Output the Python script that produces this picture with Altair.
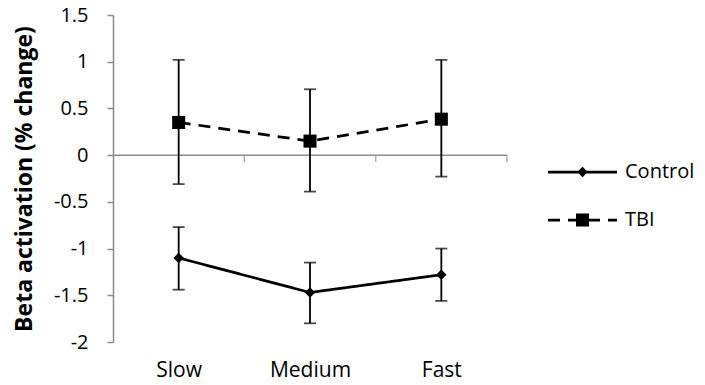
import altair as alt
import pandas as pd

categories = ["Slow", "Medium", "Fast"]
series_names = ["Control", "TBI"]

control_mean = [-1.10, -1.47, -1.28]
control_lo = [-1.44, -1.80, -1.56]
control_hi = [-0.77, -1.15, -1.00]

tbi_mean = [0.35, 0.15, 0.385]
tbi_lo = [-0.31, -0.39, -0.23]
tbi_hi = [1.02, 0.705, 1.02]

y_ticks = [-2, -1.5, -1, -0.5, 0, 0.5, 1, 1.5]
boundaries = [1, 2, 3]

rows = []
for name, m, lo, hi in [("Control", control_mean, control_lo, control_hi),
                        ("TBI", tbi_mean, tbi_lo, tbi_hi)]:
    for i, c in enumerate(categories):
        rows.append({"series": name, "cat": c, "xpos": i + 0.5,
                     "mean": m[i], "lo": lo[i], "hi": hi[i]})
df = pd.DataFrame(rows)

FONT = "Open Sans"
AXIS_GRAY = "#8c8c8c"

x_scale = alt.Scale(domain=[0, 3], nice=False, zero=False)
y_scale = alt.Scale(domain=[-2, 1.5], nice=False, zero=False)
dash_scale = alt.Scale(domain=series_names, range=[[1, 0], [12, 8]])
shape_scale = alt.Scale(domain=series_names, range=["diamond", "square"])
size_scale = alt.Scale(domain=series_names, range=[110, 170])

label_expr = "['" + "','".join(categories) + "'][floor(datum.value)]"

base = alt.Chart(df)

x_enc = alt.X("xpos:Q", scale=x_scale,
              axis=alt.Axis(values=[0.5, 1.5, 2.5], labelExpr=label_expr,
                            domain=False, ticks=False, grid=False,
                            labelFontSize=21, labelFont=FONT, labelColor="black",
                            labelPadding=17, title=None))

y_axis = alt.Axis(values=y_ticks, labelExpr="toString(datum.value)",
                  grid=False, domainColor=AXIS_GRAY, domainWidth=1.5,
                  tickColor=AXIS_GRAY, tickWidth=1.5, tickSize=6,
                  labelFontSize=20, labelFont=FONT, labelColor="black",
                  labelPadding=19,
                  title="Beta activation (% change)", titleFont=FONT,
                  titleFontSize=23, titleFontWeight="bold", titleColor="black",
                  titlePadding=17)

zero_line = alt.Chart(pd.DataFrame({"z": [0]})).mark_rule(
    color=AXIS_GRAY, strokeWidth=1.5).encode(y=alt.Y("z:Q", scale=y_scale, axis=y_axis))

bticks = alt.Chart(pd.DataFrame({"b": boundaries, "z": [0] * len(boundaries)})).mark_tick(
    orient="vertical", color=AXIS_GRAY, thickness=1.5, size=7, yOffset=3.5
).encode(x=alt.X("b:Q", scale=x_scale), y=alt.Y("z:Q", scale=y_scale))

err_rule = base.mark_rule(color="black", strokeWidth=1.8).encode(
    x=x_enc, y=alt.Y("lo:Q", scale=y_scale), y2="hi:Q")

cap_lo = base.mark_tick(orient="horizontal", color="black", thickness=1.8, size=12).encode(
    x=alt.X("xpos:Q", scale=x_scale), y=alt.Y("lo:Q", scale=y_scale))
cap_hi = base.mark_tick(orient="horizontal", color="black", thickness=1.8, size=12).encode(
    x=alt.X("xpos:Q", scale=x_scale), y=alt.Y("hi:Q", scale=y_scale))

lines = base.mark_line(color="black", strokeWidth=2.75).encode(
    x=alt.X("xpos:Q", scale=x_scale), y=alt.Y("mean:Q", scale=y_scale),
    strokeDash=alt.StrokeDash("series:N", scale=dash_scale, legend=None),
    detail="series:N")

points = base.mark_point(filled=True, color="black", opacity=1).encode(
    x=alt.X("xpos:Q", scale=x_scale), y=alt.Y("mean:Q", scale=y_scale),
    shape=alt.Shape("series:N", scale=shape_scale, legend=None),
    size=alt.Size("series:N", scale=size_scale, legend=None))

main = alt.layer(zero_line, bticks, err_rule, cap_lo, cap_hi, lines, points).properties(
    width=394, height=327)

# legend panel
leg_rows = []
for s in series_names:
    leg_rows.append({"series": s, "lx": 0})
    leg_rows.append({"series": s, "lx": 1})
leg_line_df = pd.DataFrame(leg_rows)
leg_pt_df = pd.DataFrame({"series": series_names, "lx": [0.5] * len(series_names),
                          "tx": [1] * len(series_names)})

lx_scale = alt.Scale(domain=[0, 1], nice=False, zero=False)
ly_enc = alt.Y("series:N",
               scale=alt.Scale(type="point", domain=series_names, range=[157, 205], padding=0),
               axis=None)

leg_line = alt.Chart(leg_line_df).mark_line(color="black", strokeWidth=2.75).encode(
    x=alt.X("lx:Q", scale=lx_scale, axis=None), y=ly_enc,
    strokeDash=alt.StrokeDash("series:N", scale=dash_scale, legend=None),
    detail="series:N")
leg_pt = alt.Chart(leg_pt_df).mark_point(filled=True, color="black", opacity=1).encode(
    x=alt.X("lx:Q", scale=lx_scale, axis=None), y=ly_enc,
    shape=alt.Shape("series:N", scale=shape_scale, legend=None),
    size=alt.Size("series:N", scale=size_scale, legend=None))
leg_txt = alt.Chart(leg_pt_df).mark_text(align="left", baseline="middle", dx=8,
                                         font=FONT, fontSize=20, color="black").encode(
    x=alt.X("tx:Q", scale=lx_scale, axis=None), y=ly_enc, text="series:N")

legend_panel = alt.layer(leg_line, leg_pt, leg_txt).properties(width=69, height=327)

chart = alt.hconcat(main, legend_panel, spacing=34).resolve_scale(
    strokeDash="shared", shape="shared", size="shared"
).properties(
    padding={"left": 13, "top": 5, "right": 0, "bottom": 0}
).configure_view(stroke=None)

chart.save("out.html", embed_options={"renderer": "svg", "actions": False})
